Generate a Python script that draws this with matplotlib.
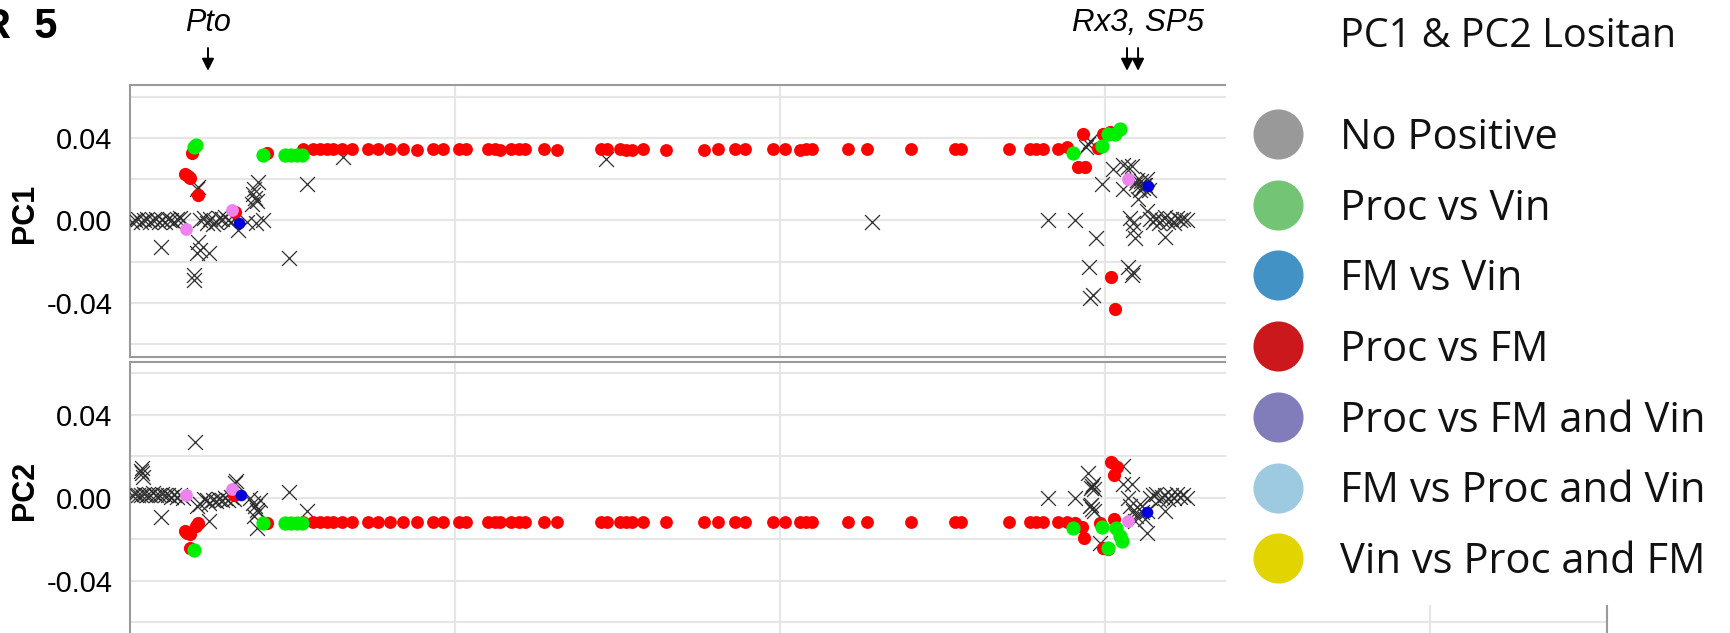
import numpy as np
import matplotlib
matplotlib.use('Agg')
import matplotlib.pyplot as plt

plt.rcParams['font.family'] = ['Liberation Sans', 'DejaVu Sans']

# positions along the chromosome (grid every 10 units)
band_pos = [5.32, 5.63, 5.85, 6.06, 6.25, 6.52, 6.83, 7.32, 7.63, 8.00,
            8.40, 8.83, 9.32, 9.63, 10.12, 10.34, 11.02, 11.23, 11.38, 11.72,
            11.97, 12.15, 12.74, 13.14, 14.49, 14.68, 15.08, 15.26, 15.45, 15.78,
            16.49, 17.66, 18.09, 18.62, 18.92, 19.78, 20.15, 20.62, 20.80, 20.98,
            22.09, 22.68, 24.03, 25.38, 25.57, 27.05, 27.69, 27.88, 28.09, 28.55,
            28.83]
band_pc1 = [0.0349, 0.0349, 0.0349, 0.0349, 0.0349, 0.0349, 0.0349, 0.0349, 0.0349, 0.0349,
            0.0349, 0.0344, 0.0349, 0.0349, 0.0349, 0.0349, 0.0349, 0.0349, 0.0344, 0.0349,
            0.0349, 0.0349, 0.0349, 0.0344, 0.0349, 0.0349, 0.0349, 0.0344, 0.0344, 0.0349,
            0.0344, 0.0344, 0.0349, 0.0349, 0.0349, 0.0349, 0.0349, 0.0344, 0.0349, 0.0349,
            0.0349, 0.0349, 0.0349, 0.0349, 0.0349, 0.0349, 0.0349, 0.0349, 0.0349, 0.0349,
            0.0358]
band_pc2 = [-0.0116, -0.0116, -0.0116, -0.0116, -0.0116, -0.0116, -0.0116, -0.0116, -0.0116, -0.0116,
            -0.0116, -0.0120, -0.0116, -0.0116, -0.0116, -0.0116, -0.0116, -0.0116, -0.0120, -0.0116,
            -0.0116, -0.0116, -0.0120, -0.0120, -0.0116, -0.0116, -0.0116, -0.0116, -0.0120, -0.0116,
            -0.0116, -0.0116, -0.0116, -0.0116, -0.0116, -0.0116, -0.0116, -0.0116, -0.0116, -0.0116,
            -0.0116, -0.0116, -0.0120, -0.0116, -0.0116, -0.0116, -0.0116, -0.0116, -0.0116, -0.0116,
            -0.0116]

# No Positive (x markers)
nopos1_x = [0.06, 0.15, 0.25, 0.34, 0.43, 0.52, 0.62, 0.71, 0.80, 0.89, 0.98, 1.08, 1.17,
            1.26, 1.35, 1.45, 1.54, 1.63, 0.95, 2.06, 2.09, 2.09, 2.06, 2.15, 2.43, 1.97, 1.97,
            2.15, 2.28, 2.37, 2.46, 2.55, 2.65, 2.74, 2.83, 2.92, 3.02, 3.11, 3.20, 3.32,
            3.60, 3.88, 4.09, 3.78, 3.85, 3.91, 3.75, 3.94, 3.82, 4.89, 5.45, 6.55, 14.65, 22.83,
            29.48, 29.54, 29.42, 30.25, 30.55, 30.83, 30.71, 29.91, 30.55,
            30.95, 31.05, 31.11, 31.17, 31.23, 31.29, 31.35, 31.08, 31.20, 30.98,
            31.02, 31.29, 30.77, 30.86,
            31.38, 31.48, 31.57, 31.66, 31.75, 31.85, 31.94, 32.03, 32.12, 32.22, 32.31, 32.40, 32.52,
            28.25, 29.08, 29.72, 30.92, 30.86, 31.85, 29.51, 30.71, 30.83, 30.86, 29.54, 29.63]
nopos1_y = [-0.0005, 0.0, 0.0005, -0.0005, 0.0, 0.0005, -0.0005, 0.0, 0.0005, -0.0005, 0.0, -0.0005, 0.0005,
            0.0, -0.0005, 0.0005, 0.001, 0.0, -0.0131, 0.0155, 0.0165, -0.0106, -0.016, -0.0145, -0.016, -0.0266, -0.029,
            0.0, 0.001, -0.001, 0.0005, -0.0015, -0.0005, 0.001, 0.0005, 0.0015, 0.0, -0.0005, 0.0005, -0.0044,
            -0.0005, -0.001, 0.0, 0.0131, 0.0111, 0.0097, 0.0082, 0.0189, 0.0155, -0.0184, 0.0179, 0.031, 0.030, -0.0005,
            0.0373, 0.0387, 0.0358, 0.0252, 0.0271, 0.0266, 0.0261, 0.0179, 0.0155,
            0.0184, 0.0169, 0.0194, 0.016, 0.0174, 0.0203, 0.015, 0.015, 0.0174, 0.0198,
            0.0106, 0.0048, 0.001, -0.001,
            0.0005, -0.0005, 0.001, -0.001, 0.0, 0.0015, -0.0005, 0.0005, -0.001, 0.001, 0.0, 0.0005, 0.0,
            0.0, 0.0, -0.0087, -0.0087, -0.0048, -0.0082, -0.0227, -0.0227, -0.0266, -0.0252, -0.0378, -0.0363]

nopos2_x = [0.34, 0.37, 0.40, 0.37, 0.06, 0.15, 0.25, 0.34, 0.43, 0.52, 0.62, 0.71, 0.80, 0.89, 0.98,
            1.08, 1.17, 1.26, 1.35, 1.45, 1.54, 1.63, 0.95, 2.00, 2.06, 2.15,
            2.28, 2.37, 2.43, 2.55, 2.65, 2.74, 2.83, 2.92, 3.02, 3.11, 3.20, 2.43, 3.23, 3.26,
            3.69, 3.78, 3.85, 3.91, 3.94, 4.00, 3.82, 3.91, 4.89, 5.45,
            28.25, 29.08, 29.48, 29.60, 29.66, 29.57, 29.63, 29.54, 29.60, 29.66, 29.57,
            30.55, 30.55, 30.83, 29.85,
            30.77, 30.86, 30.95, 31.05, 31.14, 31.23, 31.29, 30.92, 31.08, 31.29,
            31.38, 31.48, 31.57, 31.66, 31.75, 31.85, 31.94, 32.03, 32.12, 32.22, 32.31, 32.40, 32.52,
            31.85, 30.71]
nopos2_y = [0.013, 0.0116, 0.0101, 0.014, 0.0014, 0.0019, 0.001, 0.0014, 0.0019, 0.001, 0.0014, 0.0024, 0.001, 0.0014, 0.0019,
            0.001, 0.0014, 0.0005, 0.0014, 0.0005, 0.001, 0.0, -0.0092, 0.027, -0.0043, -0.0029,
            -0.0005, -0.0014, -0.0024, -0.001, -0.0019, -0.0005, -0.0014, 0.0, -0.001, 0.0005, -0.0005, -0.0111, 0.0072, 0.0082,
            0.0, -0.0024, -0.0043, -0.0058, -0.0072, -0.0014, -0.0087, -0.0149, 0.0029, -0.0063,
            0.0, 0.0, 0.0116, 0.0058, 0.0043, 0.0048, 0.0063, -0.0043, -0.0053, -0.0063, -0.0034,
            0.0154, 0.0063, 0.0063, -0.0217,
            -0.0039, -0.0063, -0.0087, -0.0053, -0.0072, -0.0101, -0.0063, -0.0111, -0.0029, -0.0169,
            0.0, 0.001, 0.0019, -0.001, 0.0005, 0.0014, -0.0005, 0.001, 0.0, 0.0019, 0.0005, 0.001, 0.0,
            -0.0063, 0.0]

# Proc vs FM (red)
red1_x = [1.78, 1.69, 1.85, 1.91, 2.09, 3.23, 4.22, 29.32, 29.17, 29.38, 29.94, 29.78, 30.15, 30.18, 30.31]
red1_y = [0.0218, 0.0227, 0.0208, 0.0329, 0.0126, 0.0039, 0.0329, 0.0421, 0.0261, 0.0261, 0.0421, 0.0353, 0.0431, -0.0276, -0.0431]
red2_x = [1.75, 1.69, 1.85, 2.09, 2.03, 1.85, 3.20, 4.22, 29.08, 29.29, 29.35, 30.18, 30.37, 30.28, 29.85, 30.28, 29.94, 30.09]
red2_y = [-0.0169, -0.0159, -0.0178, -0.0125, -0.0135, -0.0241, 0.001, -0.0125, -0.0125, -0.014, -0.0193, 0.0169, 0.0145, 0.0111, -0.0125, -0.0101, -0.0241, -0.0246]

# Proc vs Vin (green)
green1_x = [1.97, 2.03, 4.09, 4.77, 4.95, 5.14, 5.29, 29.02, 29.91, 30.09, 30.31, 30.46]
green1_y = [0.0358, 0.0368, 0.0319, 0.0319, 0.0319, 0.0319, 0.0319, 0.0329, 0.0363, 0.0421, 0.0421, 0.0445]
green2_x = [1.97, 4.09, 4.77, 4.95, 5.14, 5.29, 29.02, 29.91, 30.34, 30.46, 30.52, 30.09]
green2_y = [-0.0255, -0.0125, -0.0121, -0.0121, -0.0121, -0.0121, -0.0149, -0.014, -0.0145, -0.0183, -0.0207, -0.0241]

# Proc vs FM and Vin (violet) and FM vs Vin (blue)
violet1_x = [1.72, 3.14, 30.71]
violet1_y = [-0.0039, 0.0053, 0.0203]
violet2_x = [1.72, 3.14, 30.71]
violet2_y = [0.001, 0.0039, -0.0111]
blue1_x = [3.35, 31.32]
blue1_y = [-0.001, 0.0169]
blue2_x = [3.42, 31.29]
blue2_y = [0.0014, -0.0072]

pto_pos = 2.4
rx3_pos = 30.68
sp5_pos = 31.02

legend_labels = ['No Positive', 'Proc vs Vin', 'FM vs Vin', 'Proc vs FM',
                 'Proc vs FM and Vin', 'FM vs Proc and Vin', 'Vin vs Proc and FM']
legend_colors = ['#999999', '#74c476', '#4292c6', '#cb181d', '#807dba', '#9ecae1', '#e2d400']

W, H = 1730, 633
fig = plt.figure(figsize=(W / 100, H / 100), dpi=100)
ax1 = fig.add_axes([130 / W, 1 - 357 / H, 1477 / W, 272 / H])
ax2 = fig.add_axes([130 / W, 1 - 636 / H, 1477 / W, 274 / H])

panels = [
    (ax1, nopos1_x, nopos1_y, band_pc1, red1_x, red1_y, green1_x, green1_y, violet1_x, violet1_y, blue1_x, blue1_y, (-0.0663, 0.0658)),
    (ax2, nopos2_x, nopos2_y, band_pc2, red2_x, red2_y, green2_x, green2_y, violet2_x, violet2_y, blue2_x, blue2_y, (-0.0667, 0.0653)),
]
for ax, nx, ny, band, rx, ry, gx, gy, vx, vy, bx, by, ylim in panels:
    ax.scatter(nx, ny, marker='x', s=115, color='#2e2e2e', linewidths=0.9, zorder=3)
    ax.scatter(band_pos, band, s=85, color='#ff0000', zorder=4, linewidths=0)
    ax.scatter(rx, ry, s=90, color='#ff0000', zorder=4, linewidths=0)
    ax.scatter(gx, gy, s=105, color='#00ee00', zorder=5, linewidths=0)
    ax.scatter(vx, vy, s=85, color='#ee82ee', zorder=5, linewidths=0)
    ax.scatter(bx, by, s=70, color='#0000dd', zorder=5, linewidths=0)
    ax.set_xlim(0, 45.45)
    ax.set_ylim(*ylim)
    ax.set_xticks([10, 20, 30, 40])
    ax.set_xticklabels([])
    ax.set_yticks([-0.04, 0.0, 0.04])
    ax.set_yticklabels(['-0.04', '0.00', '0.04'])
    ax.set_yticks([-0.06, -0.02, 0.02, 0.06], minor=True)
    ax.tick_params(which='both', length=0, labelsize=21, pad=12.5)
    ax.grid(True, which='both', color='#e6e6e6', lw=1.5, zorder=0)
    ax.set_axisbelow(True)
    for s in ax.spines.values():
        s.set_color('#9a9a9a')
        s.set_linewidth(1.5)

fig.text(25 / W, 1 - 213 / H, 'PC1', rotation=90, weight='bold', size=22, ha='center', va='center')
fig.text(25 / W, 1 - 490 / H, 'PC2', rotation=90, weight='bold', size=22, ha='center', va='center')
fig.text(57 / W, 1 - 38 / H, 'R  5', weight='bold', size=30, ha='right', va='baseline')

tr = ax1.get_xaxis_transform()
arrow = dict(arrowstyle='-|>', color='black', lw=1.4, mutation_scale=18, shrinkA=0, shrinkB=0)
for p in [pto_pos, rx3_pos, sp5_pos]:
    ax1.annotate('', xy=(p, 1.052), xycoords=tr, xytext=(p, 1.136), textcoords=tr,
                 arrowprops=arrow, annotation_clip=False)
ax1.text(pto_pos, 1.228, 'Pto', transform=tr, ha='center', va='center', style='italic', size=22)
ax1.text(sp5_pos, 1.228, 'Rx3, SP5', transform=tr, ha='center', va='center', style='italic', size=22.5)

# legend panel covering the right part of the plots
lg = fig.add_axes([1226 / W, 1 - 605 / H, 504 / W, 605 / H], zorder=10)
lg.set_facecolor('white')
lg.set_xticks([])
lg.set_yticks([])
for s in lg.spines.values():
    s.set_visible(False)
lg.set_xlim(0, 1)
lg.set_ylim(0, 1)
lg.text(0.226, 1 - 47 / 605, 'PC1 & PC2 Lositan', family='Open Sans', size=28.5,
        ha='left', va='baseline', color='#111111')
for i, (lab, col) in enumerate(zip(legend_labels, legend_colors)):
    yy = 1 - (134 + 70.7 * i) / 605
    lg.scatter([0.103], [yy], s=1300, color=col, linewidths=0)
    lg.text(0.226, yy - 15 / 605, lab, family='Open Sans', size=30, ha='left', va='baseline', color='#111111')

fig.savefig('out.png', dpi=100)
